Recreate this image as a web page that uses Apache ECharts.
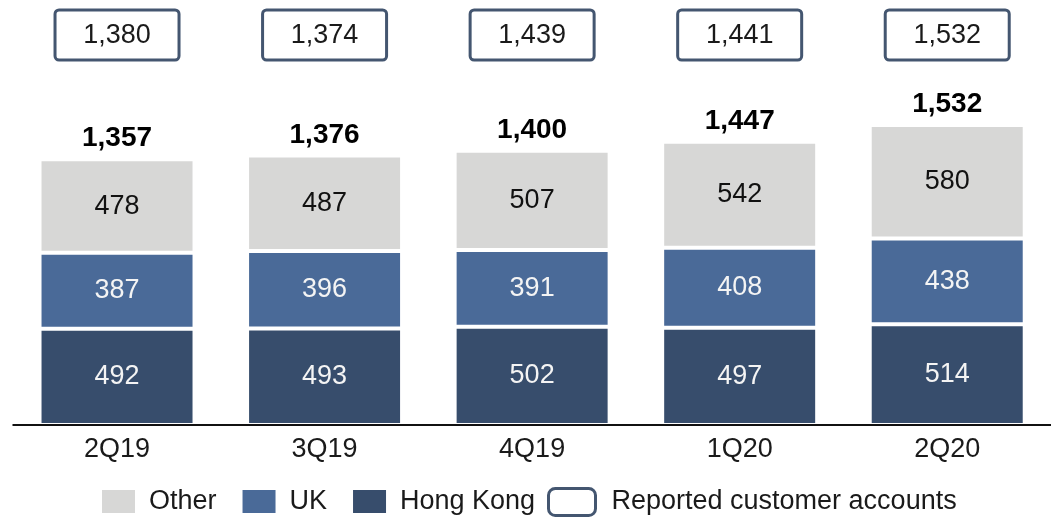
<!DOCTYPE html>
<html>
<head>
<meta charset="utf-8">
<script src="https://cdn.jsdelivr.net/npm/echarts@6/dist/echarts.min.js"></script>
<style>
  html, body { margin: 0; padding: 0; background: #fff; }
  #chart { width: 1051px; height: 517px; }
</style>
</head>
<body>
<div id="chart"></div>
<script>
// Quarters on the x axis
const quarters = ['2Q19', '3Q19', '4Q19', '1Q20', '2Q20'];
// Customer accounts by region (bn), stacked bottom to top
const hongKong = [492, 493, 502, 497, 514];
const uk = [387, 396, 391, 408, 438];
const other = [478, 487, 507, 542, 580];
// Reported customer accounts shown in the boxes above the bars
const reported = [1380, 1374, 1439, 1441, 1532];

const totals = quarters.map((_, i) => hongKong[i] + uk[i] + other[i]);

const FONT = "'Liberation Sans', Arial, Helvetica, sans-serif";
const C_OTHER = '#d7d7d6';
const C_UK = '#4a6a98';
const C_HK = '#374d6c';
const C_BOX = '#445670';

const fmt = v => v.toLocaleString('en-US');

const chart = echarts.init(document.getElementById('chart'), null, { renderer: 'canvas' });

const segLabel = (color) => ({
  show: true,
  position: 'inside',
  color: color,
  fontFamily: FONT,
  fontSize: 27,
  formatter: p => fmt(p.value)
});

const barCommon = {
  type: 'bar',
  stack: 'accounts',
  barWidth: 155,
  itemStyle: { borderColor: '#ffffff', borderWidth: 2 }
};

chart.setOption({
  animation: false,
  backgroundColor: '#ffffff',
  grid: { left: 13.25, right: -9.75, top: 72.5, bottom: 92, containLabel: false },
  xAxis: {
    type: 'category',
    data: quarters,
    axisTick: { show: false },
    axisLine: { show: true, lineStyle: { color: '#111111', width: 2 } },
    axisLabel: { color: '#1a1a1a', fontFamily: FONT, fontSize: 27, margin: 11 },
    z: 5
  },
  yAxis: {
    type: 'value',
    min: 0,
    max: 1800,
    show: false,
    splitLine: { show: false }
  },
  legend: [
    {
      left: 100,
      top: 488,
      padding: 0,
      itemWidth: 35,
      itemHeight: 25,
      itemGap: 24,
      icon: 'rect',
      data: ['Other', 'UK', 'Hong Kong'],
      textStyle: { fontFamily: FONT, fontSize: 27, color: '#1a1a1a', padding: [0, 0, 0, 8] }
    },
    {
      left: 547,
      top: 487,
      padding: 0,
      itemWidth: 47,
      itemHeight: 27,
      data: [{
        name: 'Reported customer accounts',
        icon: 'roundRect',
        itemStyle: { color: '#ffffff', borderColor: C_BOX, borderWidth: 3 }
      }],
      textStyle: { fontFamily: FONT, fontSize: 27, color: '#1a1a1a', padding: [0, 0, 0, 11] }
    }
  ],
  series: [
    Object.assign({}, barCommon, {
      name: 'Hong Kong',
      data: hongKong,
      itemStyle: Object.assign({}, barCommon.itemStyle, { color: C_HK }),
      label: segLabel('#f4f4f4')
    }),
    Object.assign({}, barCommon, {
      name: 'UK',
      data: uk,
      itemStyle: Object.assign({}, barCommon.itemStyle, { color: C_UK }),
      label: segLabel('#f4f4f4')
    }),
    Object.assign({}, barCommon, {
      name: 'Other',
      data: other,
      itemStyle: Object.assign({}, barCommon.itemStyle, { color: C_OTHER }),
      label: segLabel('#111111')
    }),
    {
      // bold totals above each stack
      name: 'Total',
      type: 'scatter',
      data: totals,
      symbolSize: 1,
      itemStyle: { color: 'rgba(0,0,0,0)', opacity: 1 },
      label: {
        show: true,
        position: 'top',
        distance: 6,
        color: '#000000',
        opacity: 1,
        fontFamily: FONT,
        fontSize: 28,
        fontWeight: 'bold',
        formatter: p => fmt(p.value)
      },
      z: 6
    },
    {
      // outlined boxes with reported customer accounts above the chart area
      name: 'Reported customer accounts',
      type: 'custom',
      data: reported.map((v, i) => [i, v]),
      renderItem: (params, api) => {
        const x = api.coord([api.value(0), 0])[0];
        const w = 124, h = 50;
        const top = params.coordSys.y - 62.5;
        return {
          type: 'group',
          children: [
            {
              type: 'rect',
              shape: { x: x - w / 2, y: top, width: w, height: h, r: 4 },
              style: { fill: '#ffffff', stroke: C_BOX, lineWidth: 3 }
            },
            {
              type: 'text',
              style: {
                x: x,
                y: top + h / 2 + 1,
                text: fmt(api.value(1)),
                fill: '#1a1a1a',
                font: '27px ' + FONT,
                align: 'center',
                verticalAlign: 'middle'
              }
            }
          ]
        };
      },
      z: 6
    }
  ]
});
</script>
</body>
</html>
